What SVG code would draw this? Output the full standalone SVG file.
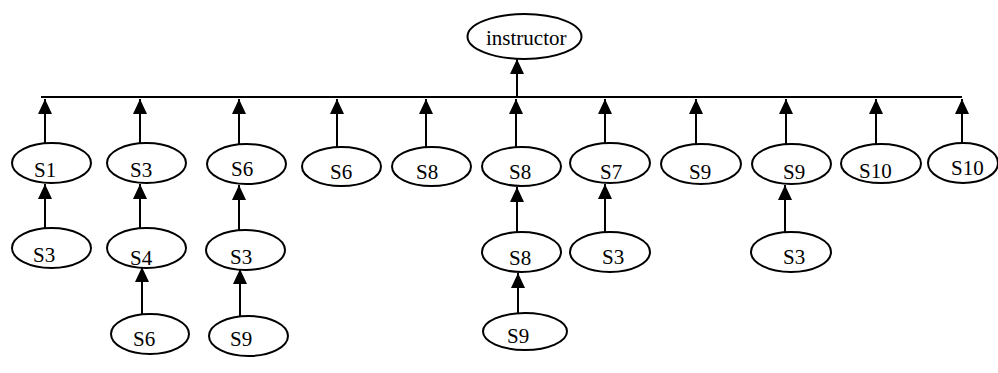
<svg xmlns="http://www.w3.org/2000/svg" width="998" height="373" viewBox="0 0 998 373">
  <style>
    .node ellipse { fill: #ffffff; stroke: #000000; stroke-width: 2; }
    .node text { font-family: "Liberation Serif", "Times New Roman", serif; font-size: 21px; fill: #000000; }
    .edge { stroke: #000000; stroke-width: 2; fill: none; }
    .bus { stroke: #000000; stroke-width: 2; fill: none; }
  </style>
  <defs>
    <marker id="arrow" markerUnits="userSpaceOnUse" markerWidth="15" markerHeight="14" refX="15" refY="7" orient="auto">
      <path d="M0,0 L15,7 L0,14 Z" fill="#000000"/>
    </marker>
  </defs>
  <rect width="998" height="373" fill="#ffffff"/>

  <!-- connectors -->
  <g id="connectors">
    <line class="bus" x1="41" y1="97" x2="962" y2="97"/>
    <line class="edge" x1="517" y1="97" x2="517" y2="59" marker-end="url(#arrow)"/>
    <!-- first row into the bus -->
    <line class="edge" x1="45" y1="143" x2="45" y2="99" marker-end="url(#arrow)"/>
    <line class="edge" x1="140" y1="143" x2="140" y2="99" marker-end="url(#arrow)"/>
    <line class="edge" x1="239" y1="144" x2="239" y2="99" marker-end="url(#arrow)"/>
    <line class="edge" x1="337" y1="147" x2="337" y2="99" marker-end="url(#arrow)"/>
    <line class="edge" x1="426" y1="147" x2="426" y2="99" marker-end="url(#arrow)"/>
    <line class="edge" x1="516" y1="147" x2="516" y2="99" marker-end="url(#arrow)"/>
    <line class="edge" x1="605" y1="143" x2="605" y2="99" marker-end="url(#arrow)"/>
    <line class="edge" x1="696" y1="144" x2="696" y2="99" marker-end="url(#arrow)"/>
    <line class="edge" x1="786" y1="144" x2="786" y2="99" marker-end="url(#arrow)"/>
    <line class="edge" x1="876" y1="144" x2="876" y2="99" marker-end="url(#arrow)"/>
    <line class="edge" x1="962" y1="143" x2="962" y2="99" marker-end="url(#arrow)"/>
    <!-- second row -->
    <line class="edge" x1="45" y1="228" x2="45" y2="184" marker-end="url(#arrow)"/>
    <line class="edge" x1="140" y1="228" x2="140" y2="184" marker-end="url(#arrow)"/>
    <line class="edge" x1="239" y1="230" x2="239" y2="185" marker-end="url(#arrow)"/>
    <line class="edge" x1="517" y1="232" x2="517" y2="187" marker-end="url(#arrow)"/>
    <line class="edge" x1="605" y1="232" x2="605" y2="184" marker-end="url(#arrow)"/>
    <line class="edge" x1="785" y1="232" x2="785" y2="185" marker-end="url(#arrow)"/>
    <!-- third row -->
    <line class="edge" x1="142" y1="314" x2="142" y2="267" marker-end="url(#arrow)"/>
    <line class="edge" x1="240" y1="316" x2="240" y2="269" marker-end="url(#arrow)"/>
    <line class="edge" x1="518" y1="313" x2="518" y2="273" marker-end="url(#arrow)"/>
  </g>

  <!-- root -->
  <g id="instructor" class="node">
    <ellipse cx="524.5" cy="36.5" rx="57" ry="22.5"/>
    <text x="486" y="45">instructor</text>
  </g>

  <!-- first row -->
  <g id="n1-s1" class="node"><ellipse cx="51.5" cy="163" rx="39.5" ry="20"/><text x="34" y="177">S1</text></g>
  <g id="n2-s3" class="node"><ellipse cx="146.5" cy="163" rx="39.5" ry="20"/><text x="130" y="177">S3</text></g>
  <g id="n3-s6" class="node"><ellipse cx="246.5" cy="164" rx="39.5" ry="20"/><text x="231" y="176">S6</text></g>
  <g id="n4-s6" class="node"><ellipse cx="341.5" cy="166.5" rx="39.5" ry="19.5"/><text x="330" y="179">S6</text></g>
  <g id="n5-s8" class="node"><ellipse cx="431.5" cy="166.5" rx="39.5" ry="19.5"/><text x="416" y="179">S8</text></g>
  <g id="n6-s8" class="node"><ellipse cx="521.5" cy="166.5" rx="39.5" ry="19.5"/><text x="509" y="179">S8</text></g>
  <g id="n7-s7" class="node"><ellipse cx="610" cy="163" rx="40" ry="20"/><text x="600" y="179">S7</text></g>
  <g id="n8-s9" class="node"><ellipse cx="701" cy="164" rx="40" ry="20"/><text x="689" y="179">S9</text></g>
  <g id="n9-s9" class="node"><ellipse cx="791.5" cy="164" rx="39.5" ry="20"/><text x="783" y="179">S9</text></g>
  <g id="n10-s10" class="node"><ellipse cx="881" cy="163.5" rx="40" ry="19.5"/><text x="859" y="178">S10</text></g>
  <g id="n11-s10" class="node"><ellipse cx="963" cy="163" rx="35" ry="20"/><text x="951" y="175">S10</text></g>

  <!-- second row -->
  <g id="n1-s3" class="node"><ellipse cx="51.5" cy="248" rx="39.5" ry="20"/><text x="33" y="262">S3</text></g>
  <g id="n2-s4" class="node"><ellipse cx="146.5" cy="248" rx="39.5" ry="20"/><text x="130" y="265">S4</text></g>
  <g id="n3-s3" class="node"><ellipse cx="245.5" cy="250" rx="39.5" ry="20"/><text x="230" y="264">S3</text></g>
  <g id="n6-s8b" class="node"><ellipse cx="521.5" cy="252" rx="39.5" ry="20"/><text x="509" y="265">S8</text></g>
  <g id="n7-s3" class="node"><ellipse cx="610" cy="252" rx="40" ry="20"/><text x="602" y="264">S3</text></g>
  <g id="n9-s3" class="node"><ellipse cx="791" cy="252" rx="40" ry="20"/><text x="783" y="264">S3</text></g>

  <!-- third row -->
  <g id="n2-s6" class="node"><ellipse cx="150" cy="334" rx="39" ry="20"/><text x="133" y="346">S6</text></g>
  <g id="n3-s9" class="node"><ellipse cx="248.5" cy="336" rx="39.5" ry="20"/><text x="230" y="346">S9</text></g>
  <g id="n6-s9" class="node"><ellipse cx="525" cy="331.5" rx="42" ry="18.5"/><text x="507" y="343">S9</text></g>
</svg>
